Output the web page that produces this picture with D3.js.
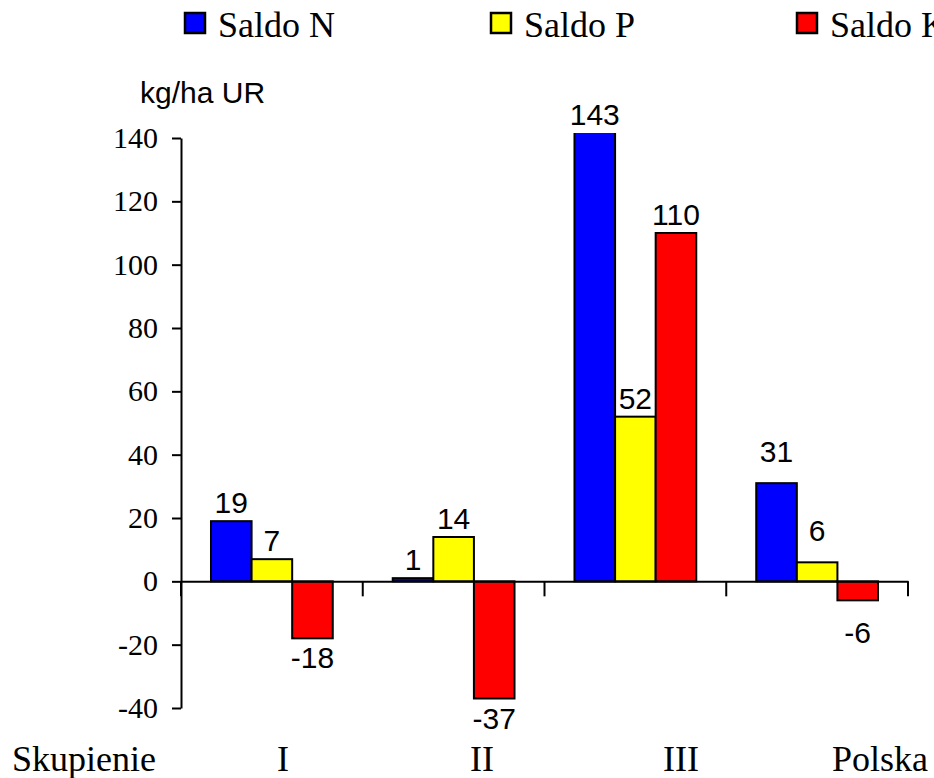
<!DOCTYPE html>
<html>
<head>
<meta charset="utf-8">
<script src="https://cdn.jsdelivr.net/npm/d3@7"></script>
<style>
  html, body { margin: 0; padding: 0; background: #fff; }
  svg { display: block; }
  .serif { font-family: "Liberation Serif", "DejaVu Serif", serif; }
  .sans { font-family: "Liberation Sans", Arial, sans-serif; }
</style>
</head>
<body>
<svg id="chart" width="934" height="778"></svg>
<script>
// ---- data ----
const categories = ["I", "II", "III", "Polska"];
const seriesNames = ["Saldo N", "Saldo P", "Saldo K"];
const saldoN = [19, 1, 143, 31];
const saldoP = [7, 14, 52, 6];
const saldoK = [-18, -37, 110, -6];
const yTicks = [-40, -20, 0, 20, 40, 60, 80, 100, 120, 140];
const rowLabels = ["Skupienie", "I", "II", "III", "Polska"];
const unitLabel = "kg/ha UR";

// ---- styles ----
const colors = ["#0000FF", "#FFFF00", "#FF0000"];
const labelLift = { "I": 0, "II": 0, "III": 0, "Polska": 13 };

const values = [saldoN, saldoP, saldoK];
const rows = [];
categories.forEach((c, ci) => {
  seriesNames.forEach((s, si) => rows.push({ cat: c, series: s, si, value: values[si][ci] }));
});

const svg = d3.select("#chart");

const y = d3.scaleLinear().domain([-40, 140]).range([708, 138]);
const x0 = d3.scaleBand().domain(categories).range([181, 908]).padding(0);
const gap = x0.bandwidth() * 0.165;
const x1 = d3.scaleBand().domain(seriesNames).range([gap, x0.bandwidth() - gap]).padding(0);
const plotTop = y(141.6);

// clip bars to plot area top (as in source, tallest bar clipped)
svg.append("defs").append("clipPath").attr("id", "plotClip")
  .append("rect").attr("x", 181).attr("y", plotTop).attr("width", 727).attr("height", 708 - plotTop);

// bars
svg.append("g").attr("clip-path", "url(#plotClip)")
  .selectAll("rect").data(rows).join("rect")
  .attr("x", d => x0(d.cat) + x1(d.series))
  .attr("width", x1.bandwidth())
  .attr("y", d => y(Math.max(0, d.value)))
  .attr("height", d => Math.abs(y(d.value) - y(0)))
  .attr("fill", d => colors[d.si])
  .attr("stroke", "#000")
  .attr("stroke-width", 2);

// y axis
const yAxis = d3.axisLeft(y).tickValues(yTicks).tickSize(9).tickPadding(14).tickSizeOuter(0)
  .tickFormat(d => String(d));
const gy = svg.append("g").attr("transform", "translate(181,0)").call(yAxis);
gy.attr("font-family", null).attr("font-size", null);
gy.select(".domain").attr("stroke", "#000").attr("stroke-width", 2);
gy.selectAll(".tick line").attr("stroke", "#000").attr("stroke-width", 2);
gy.selectAll(".tick text").attr("class", "serif").style("font-size", "30px").attr("fill", "#000");

// x axis at zero
const xAxis = d3.axisBottom(x0).tickSize(0).tickFormat("");
const gx = svg.append("g").attr("transform", `translate(0,${y(0)})`).call(xAxis);
gx.select(".domain").attr("stroke", "#000").attr("stroke-width", 2);
gx.selectAll(".tick").remove();
const boundaries = categories.map(c => x0(c)).concat([x0.range()[1]]);
gx.selectAll("line.sep").data(boundaries).join("line")
  .attr("class", "sep")
  .attr("x1", d => d).attr("x2", d => d)
  .attr("y1", 0).attr("y2", 15)
  .attr("stroke", "#000").attr("stroke-width", 2);

// data labels
svg.append("g").selectAll("text").data(rows).join("text")
  .attr("class", "sans")
  .attr("x", d => x0(d.cat) + x1(d.series) + x1.bandwidth() / 2)
  .attr("y", d => d.value >= 0
    ? Math.max(y(d.value), plotTop) - 8 - labelLift[d.cat]
    : y(d.value) + 30 + labelLift[d.cat])
  .attr("text-anchor", "middle")
  .style("font-size", "30px")
  .attr("fill", "#000")
  .text(d => String(d.value));

// unit label
svg.append("text")
  .attr("class", "sans")
  .attr("x", 140).attr("y", 103)
  .style("font-size", "30px").attr("fill", "#000")
  .text(unitLabel);

// bottom row labels
const xr = d3.scalePoint().domain(rowLabels).range([84, 880]);
svg.append("g").selectAll("text").data(rowLabels).join("text")
  .attr("class", "serif")
  .attr("x", d => xr(d))
  .attr("y", 771)
  .attr("text-anchor", "middle")
  .style("font-size", "36px").attr("fill", "#000")
  .text(d => d);

// legend
const lg = svg.append("g").selectAll("g").data(seriesNames).join("g")
  .attr("transform", (d, i) => `translate(${185 + i * 306},0)`);
lg.append("rect").attr("x", 0).attr("y", 13).attr("width", 20).attr("height", 20)
  .attr("fill", (d, i) => colors[i]).attr("stroke", "#000").attr("stroke-width", 2.5);
lg.append("text").attr("class", "serif").attr("x", 33).attr("y", 37)
  .style("font-size", "36px").attr("fill", "#000")
  .text(d => d);
</script>
</body>
</html>
